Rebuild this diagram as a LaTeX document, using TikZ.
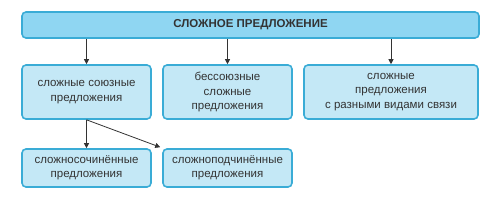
\documentclass[tikz,border=0pt]{standalone}
\usepackage{fontspec}
\setmainfont{Liberation Sans}
\usetikzlibrary{arrows.meta}
\definecolor{boxfill}{HTML}{C4E8F6}
\definecolor{topfill}{HTML}{8FD6F2}
\definecolor{boxline}{HTML}{3AACD6}
\definecolor{txt}{HTML}{333333}
\tikzset{
  box/.style={draw=boxline, line width=1.6pt, rounded corners=4pt, fill=boxfill, text=txt, font=\fontsize{11.5}{14.5}\selectfont, align=center, inner sep=0pt},
  topbox/.style={box, fill=topfill, font=\fontsize{11.5}{13}\selectfont\bfseries},
  arr/.style={draw=black!80, line width=0.8pt, -{Triangle[length=5pt,width=5pt]}}
}
\begin{document}
\begin{tikzpicture}[x=1pt,y=-1pt]
\useasboundingbox (0,0) rectangle (500,211);
\node[topbox, minimum width=457pt, minimum height=26pt] (top) at (250.5,25) {СЛОЖНОЕ ПРЕДЛОЖЕНИЕ};
\node[box, minimum width=129pt, minimum height=54pt] (b1) at (86.5,92) {сложные союзные\\предложения};
\node[box, minimum width=129pt, minimum height=54pt] (b2) at (227.5,92) {бессоюзные\\сложные\\предложения};
\node[box, minimum width=174pt, minimum height=54pt] (b3) at (391,92) {сложные\\предложения\\с разными видами связи};
\node[box, minimum width=129pt, minimum height=38pt, font=\fontsize{11.5}{13.5}\selectfont] (b4) at (86.5,168) {сложносочинённые\\предложения};
\node[box, minimum width=129pt, minimum height=38pt, font=\fontsize{11.5}{13.5}\selectfont] (b5) at (227.5,168) {сложноподчинённые\\предложения};
\draw[arr] (top.south -| b1.north) -- (b1.north);
\draw[arr] (top.south -| b2.north) -- (b2.north);
\draw[arr] (top.south -| b3.north) -- (b3.north);
\coordinate (split) at (b1.south);
\draw[arr] (split) -- (b4.north);
\draw[arr] (split) -- ([xshift=-2pt,yshift=1pt]b5.north west);
\end{tikzpicture}
\end{document}
